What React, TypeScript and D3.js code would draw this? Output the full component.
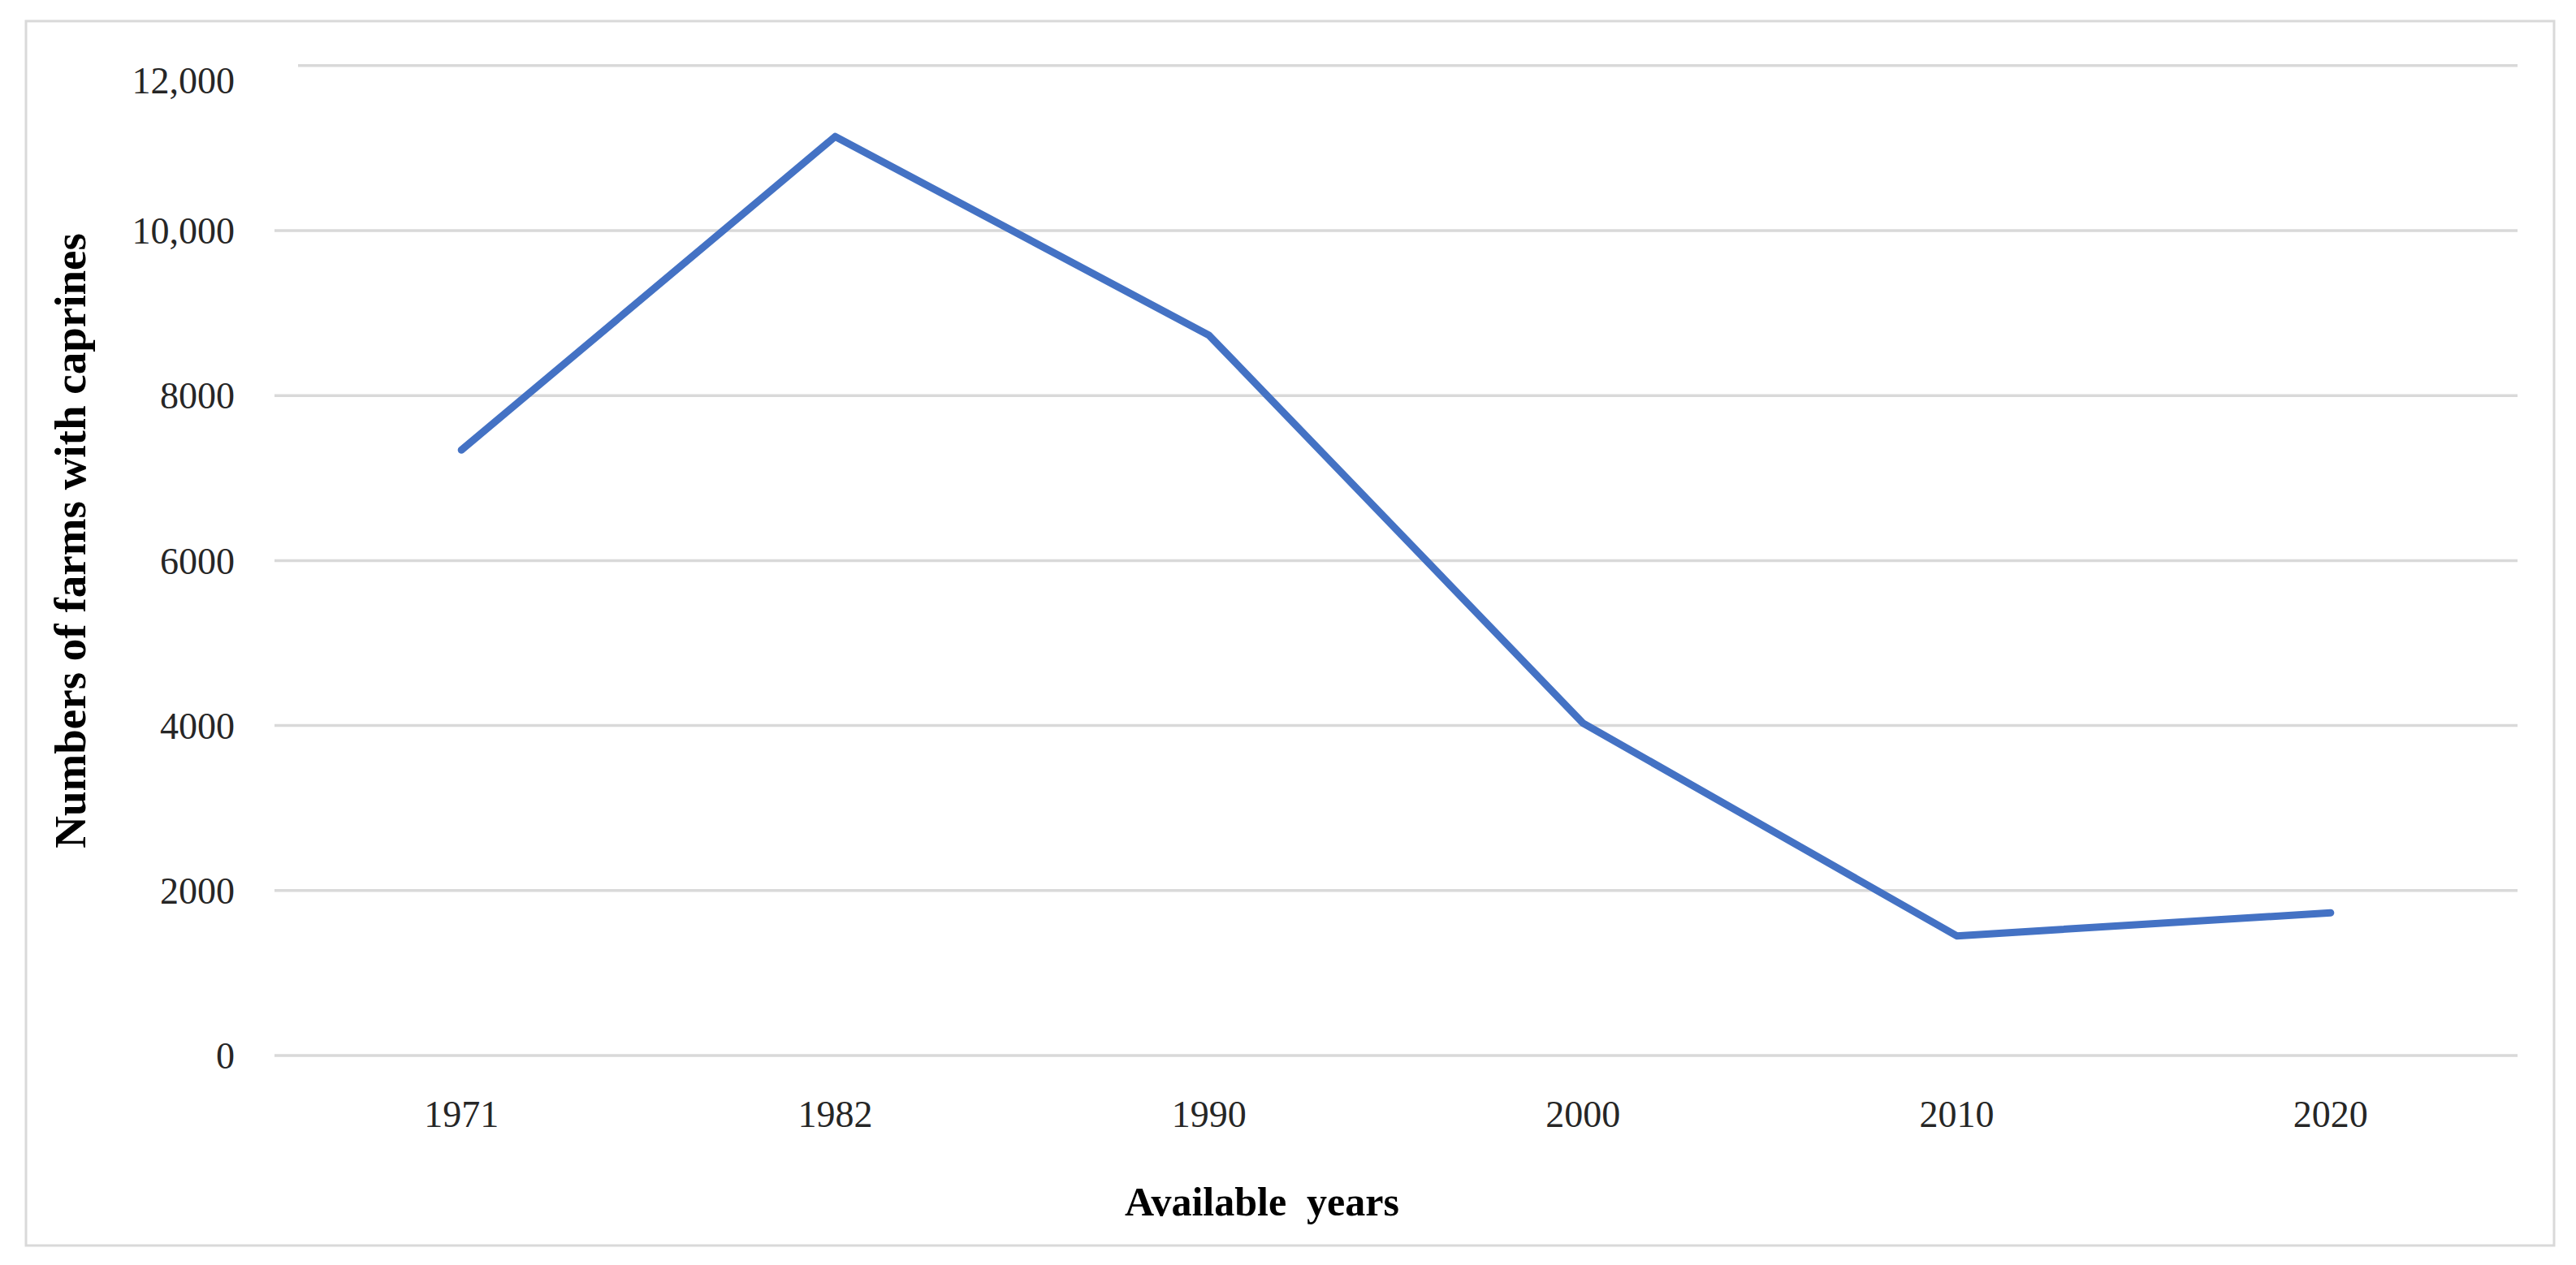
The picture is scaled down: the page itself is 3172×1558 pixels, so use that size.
import React from "react";
import * as d3 from "d3";

const years: string[] = ["1971", "1982", "1990", "2000", "2010", "2020"];
const farms: number[] = [7340, 11140, 8730, 4030, 1450, 1730];
const yTicks: number[] = [0, 2000, 4000, 6000, 8000, 10000, 12000];
const yTickLabels: string[] = ["0", "2000", "4000", "6000", "8000", "10,000", "12,000"];

const W = 3172;
const H = 1558;
const FONT = "'Liberation Serif', 'Times New Roman', serif";

export default function App() {
  const x = d3.scaleBand<string>().domain(years).range([338, 3100]);
  const y = d3.scaleLinear().domain([0, 12000]).range([1300, 80.8]);
  const line = d3
    .line<number>()
    .x((_, i) => (x(years[i]) as number) + x.bandwidth() / 2)
    .y((d) => y(d));
  const maxTick = yTicks[yTicks.length - 1];

  return (
    <svg
      width={W}
      height={H}
      viewBox={`0 0 ${W} ${H}`}
      style={{ position: "absolute", left: 0, top: 0, background: "#ffffff" }}
    >
      <rect x={0} y={0} width={W} height={H} fill="#ffffff" />
      <rect x={32} y={26} width={3113} height={1508} fill="none" stroke="#d9d9d9" strokeWidth={3} />
      {yTicks.map((t) => (
        <line
          key={t}
          x1={t === maxTick ? 367 : 338}
          x2={3100}
          y1={y(t)}
          y2={y(t)}
          stroke="#d9d9d9"
          strokeWidth={3.5}
        />
      ))}
      {yTicks.map((t, i) => (
        <text
          key={"l" + t}
          x={289}
          y={y(t) + (t === maxTick ? 18 : 0)}
          dy="0.35em"
          textAnchor="end"
          fontFamily={FONT}
          fontSize={46}
          fill="#262626"
        >
          {yTickLabels[i]}
        </text>
      ))}
      {years.map((yr) => (
        <text
          key={yr}
          x={(x(yr) as number) + x.bandwidth() / 2}
          y={1388}
          textAnchor="middle"
          fontFamily={FONT}
          fontSize={46}
          fill="#262626"
        >
          {yr}
        </text>
      ))}
      <path
        d={line(farms) || ""}
        fill="none"
        stroke="#4472C4"
        strokeWidth={9}
        strokeLinecap="round"
        strokeLinejoin="round"
      />
      <text
        x={1554}
        y={1497}
        textAnchor="middle"
        fontFamily={FONT}
        fontWeight="bold"
        fontSize={50}
        fill="#000000"
        style={{ whiteSpace: "pre" }}
      >
        {"Available  years"}
      </text>
      <text
        transform={`translate(105, 666) rotate(-90)`}
        textAnchor="middle"
        fontFamily={FONT}
        fontWeight="bold"
        fontSize={55}
        fill="#000000"
      >
        Numbers of farms with caprines
      </text>
    </svg>
  );
}
